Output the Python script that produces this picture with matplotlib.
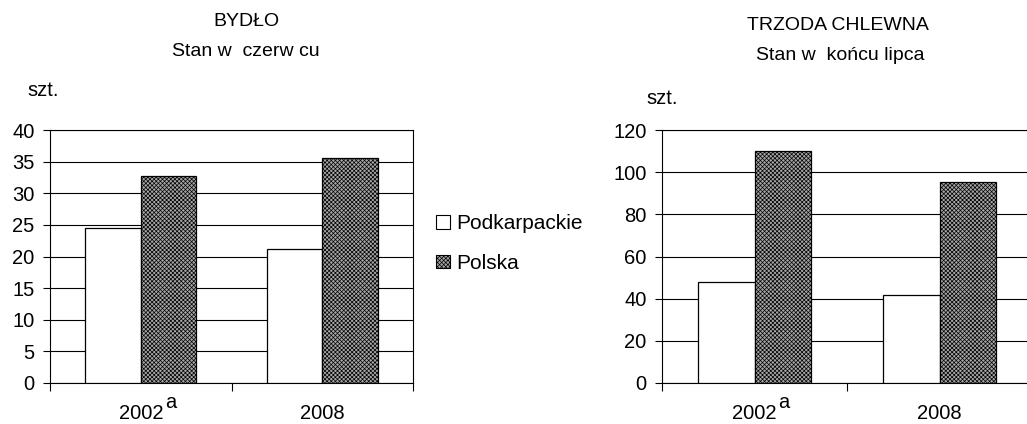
import numpy as np
import matplotlib
matplotlib.use("Agg")
from matplotlib import pyplot as plt
from matplotlib.patches import Patch

plt.rcParams['font.family'] = ['Liberation Sans', 'DejaVu Sans']
plt.rcParams['hatch.color'] = '#5a5a5a'
plt.rcParams['hatch.linewidth'] = 0.5

# data
years = ['2002', '2008']
year_note = 'a'   # footnote mark on the first year
series = ['Podkarpackie', 'Polska']
bydlo_podk = [24.5, 21.2]
bydlo_pl = [32.7, 35.5]
trzoda_podk = [48.1, 41.7]
trzoda_pl = [110.2, 95.2]

fig = plt.figure(figsize=(10.27, 4.24), dpi=100)
ax1 = fig.add_axes([50/1027, 41/424, 363/1027, 253/424])
ax2 = fig.add_axes([662/1027, 41/424, 370/1027, 253/424])

GRAY = '#a6a6a6'
HATCH = 'xxxxxxxx'


def draw(ax, podk, pl, ymax, step):
    x = np.arange(len(years))
    w = 0.305
    ax.bar(x - w/2, podk, w, color='white', edgecolor='black', linewidth=0.9, zorder=3)
    ax.bar(x + w/2, pl, w, color=GRAY, edgecolor='black', linewidth=0.9,
           hatch=HATCH, zorder=3)
    ax.set_xlim(-0.5, len(years) - 0.5)
    ax.set_ylim(0, ymax)
    ax.set_yticks(np.arange(0, ymax + 1, step))
    ax.yaxis.grid(True, color='black', linewidth=0.8, zorder=0)
    ax.set_axisbelow(True)
    ax.set_xticks(x)
    ax.set_xticklabels(years)
    ax.set_xticks(np.arange(-0.5, len(years), 1), minor=True)
    ax.tick_params(axis='x', which='major', length=0, pad=15, labelsize=14.5)
    ax.tick_params(axis='x', which='minor', length=6, direction='out', width=0.8)
    ax.tick_params(axis='y', length=5, width=0.8, pad=6, labelsize=14.5)
    for s in ax.spines.values():
        s.set_color('black')
        s.set_linewidth(0.8)
    # superscript footnote mark after the first year
    ax.annotate(year_note, xy=(0, 0), xycoords=('data', 'axes fraction'),
                xytext=(24, -25), textcoords='offset pixels',
                ha='left', va='baseline', fontsize=14.5)


draw(ax1, bydlo_podk, bydlo_pl, 40, 5)
draw(ax2, trzoda_podk, trzoda_pl, 120, 20)

fig.text(246/1027, 1 - 22/424, 'BYDŁO', ha='center', va='center', fontsize=14)
fig.text(246/1027, 1 - 52/424, 'Stan w  czerw cu', ha='center', va='center', fontsize=14)
fig.text(27/1027, 1 - 90/424, 'szt.', ha='left', va='center', fontsize=14.5)

fig.text(838/1027, 1 - 25/424, 'TRZODA CHLEWNA', ha='center', va='center', fontsize=14)
fig.text(840/1027, 1 - 55/424, 'Stan w  końcu lipca', ha='center', va='center', fontsize=14)
fig.text(646/1027, 1 - 98/424, 'szt.', ha='left', va='center', fontsize=14.5)

handles = [Patch(facecolor='white', edgecolor='black', linewidth=0.8),
           Patch(facecolor=GRAY, edgecolor='black', linewidth=0.8, hatch=HATCH)]
fig.legend(handles, series, loc='upper left', bbox_to_anchor=(436/1027, 1 - 214/424),
           frameon=False, fontsize=15, handlelength=0.65, handleheight=0.65,
           handletextpad=0.3, labelspacing=1.0, borderaxespad=0, borderpad=0)

fig.savefig('out.png', dpi=100)
